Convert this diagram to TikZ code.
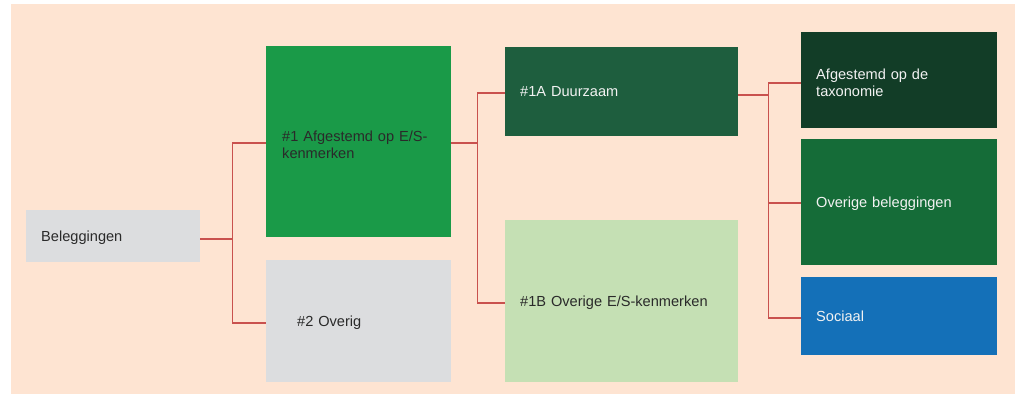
\documentclass[tikz,border=0pt]{standalone}
\usepackage{fontspec}
\setmainfont{Liberation Sans}
\definecolor{peach}{HTML}{FEE4D2}
\definecolor{lgray}{HTML}{DCDDDF}
\definecolor{gmid}{HTML}{1A9A48}
\definecolor{gdark}{HTML}{1E5E3E}
\definecolor{glight}{HTML}{C5E0B4}
\definecolor{gdeep}{HTML}{123D27}
\definecolor{gforest}{HTML}{156C38}
\definecolor{sblue}{HTML}{1470B8}
\definecolor{lred}{HTML}{C9514E}
\definecolor{dtext}{HTML}{2A2A2A}
\definecolor{wtext}{HTML}{F2F2F2}
\tikzset{
  box/.style={rectangle, anchor=north west, inner ysep=0pt, align=left,
    font=\fontsize{14.6}{17}\selectfont,
    execute at end node={\vspace*{-6pt}}},
  conn/.style={draw=lred, line width=1.6pt},
}
\begin{document}
\begin{tikzpicture}[x=1pt,y=-1pt]
\useasboundingbox (0,0) rectangle (1015,394);
\fill[peach] (11,4) rectangle (1015,394);

\node[box, fill=lgray, text=dtext, inner xsep=15pt, text width=144pt, minimum height=52pt] (bel) at (26,210) {Beleggingen};
\node[box, fill=gmid, text=dtext, inner xsep=16pt, text width=153pt, minimum height=191pt] (p1) at (266,46) {\#1 Afgestemd op E/S-\\kenmerken};
\node[box, fill=lgray, text=dtext, inner xsep=31pt, text width=123pt, minimum height=122pt] (p2) at (266,260) {\#2 Overig};
\node[box, fill=gdark, text=wtext, inner xsep=15pt, text width=203pt, minimum height=89pt] (a1) at (505,47) {\#1A Duurzaam};
\node[box, fill=glight, text=dtext, inner xsep=15pt, text width=203pt, minimum height=162pt] (b1) at (505,220) {\#1B Overige E/S-kenmerken};
\node[box, fill=gdeep, text=wtext, inner xsep=15pt, text width=166pt, minimum height=96pt] (tax) at (801,32) {Afgestemd op de\\taxonomie};
\node[box, fill=gforest, text=wtext, inner xsep=15pt, text width=166pt, minimum height=126pt] (ov) at (801,139) {Overige beleggingen};
\node[box, fill=sblue, text=wtext, inner xsep=15pt, text width=166pt, minimum height=78pt] (soc) at (801,277) {Sociaal};

\draw[conn] ([yshift=-3pt]bel.east) -- ++(32,0) coordinate (j1);
\draw[conn] ([yshift=-1.5pt]p1.west) -| (j1) |- ([yshift=-2pt]p2.west);
\draw[conn] ([yshift=-1.5pt]p1.east) -- ++(26,0) coordinate (j2);
\draw[conn] ([yshift=-1.5pt]a1.west) -| (j2) |- ([yshift=-2pt]b1.west);
\draw[conn] ([yshift=-3.5pt]a1.east) -- ++(30,0) coordinate (j3);
\draw[conn] ([yshift=-3pt]tax.west) -| (j3) |- ([yshift=-2pt]soc.west);
\draw[conn] ([yshift=-1pt]ov.west) coordinate (ovw) -- (j3 |- ovw);
\end{tikzpicture}
\end{document}
